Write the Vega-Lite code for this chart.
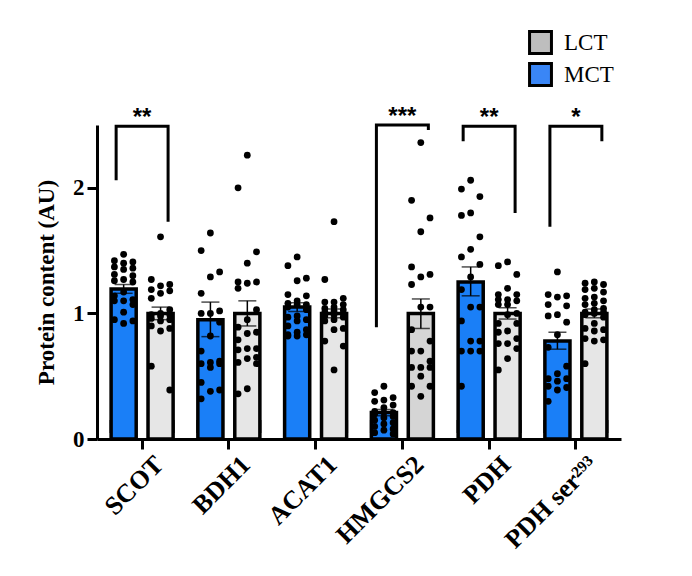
{
  "$schema": "https://vega.github.io/schema/vega-lite/v6.json",
  "description": "Ketone metabolism protein content, MCT vs LCT, bars with individual points and SEM.",
  "width": 524,
  "height": 314,
  "autosize": "none",
  "padding": {"left": 97, "top": 125, "right": 71, "bottom": 137},
  "config": {"view": {"stroke": null}, "font": "Liberation Serif"},
  "datasets": {
    "summary": [
      {"gene": "SCOT", "diet": "MCT", "mean": 1.195, "lo": 1.16, "hi": 1.23},
      {"gene": "SCOT", "diet": "LCT", "mean": 1.0, "lo": 0.95, "hi": 1.05},
      {"gene": "BDH1", "diet": "MCT", "mean": 0.95, "lo": 0.815, "hi": 1.09},
      {"gene": "BDH1", "diet": "LCT", "mean": 1.0, "lo": 0.9, "hi": 1.1},
      {"gene": "ACAT1", "diet": "MCT", "mean": 1.05, "lo": 1.015, "hi": 1.085},
      {"gene": "ACAT1", "diet": "LCT", "mean": 1.0, "lo": 0.965, "hi": 1.035},
      {"gene": "HMGCS2", "diet": "MCT", "mean": 0.21, "lo": 0.185, "hi": 0.235},
      {"gene": "HMGCS2", "diet": "LCT", "mean": 1.0, "lo": 0.88, "hi": 1.115},
      {"gene": "PDH", "diet": "MCT", "mean": 1.25, "lo": 1.14, "hi": 1.37},
      {"gene": "PDH", "diet": "LCT", "mean": 1.0, "lo": 0.955, "hi": 1.045},
      {"gene": "PDH ser²⁹³", "diet": "MCT", "mean": 0.78, "lo": 0.715, "hi": 0.85},
      {"gene": "PDH ser²⁹³", "diet": "LCT", "mean": 1.0, "lo": 0.965, "hi": 1.035}
    ],
    "brackets": [
      {"gene": "SCOT", "diet": "MCT", "y": 2.06, "step": 1},
      {"gene": "SCOT", "diet": "MCT", "y": 2.49, "step": 2},
      {"gene": "SCOT", "diet": "LCT", "y": 2.49, "step": 3},
      {"gene": "SCOT", "diet": "LCT", "y": 1.73, "step": 4},
      {"gene": "HMGCS2", "diet": "MCT", "y": 0.89, "step": 1},
      {"gene": "HMGCS2", "diet": "MCT", "y": 2.5, "step": 2},
      {"gene": "HMGCS2", "diet": "LCT", "y": 2.5, "step": 3},
      {"gene": "HMGCS2", "diet": "LCT", "y": 2.46, "step": 4},
      {"gene": "PDH", "diet": "MCT", "y": 2.37, "step": 1},
      {"gene": "PDH", "diet": "MCT", "y": 2.49, "step": 2},
      {"gene": "PDH", "diet": "LCT", "y": 2.49, "step": 3},
      {"gene": "PDH", "diet": "LCT", "y": 1.8, "step": 4},
      {"gene": "PDH ser²⁹³", "diet": "MCT", "y": 1.69, "step": 1},
      {"gene": "PDH ser²⁹³", "diet": "MCT", "y": 2.49, "step": 2},
      {"gene": "PDH ser²⁹³", "diet": "LCT", "y": 2.49, "step": 3},
      {"gene": "PDH ser²⁹³", "diet": "LCT", "y": 2.37, "step": 4}
    ],
    "stars": [
      {"gene": "SCOT", "label": "**", "y": 2.5},
      {"gene": "HMGCS2", "label": "***", "y": 2.51},
      {"gene": "PDH", "label": "**", "y": 2.5},
      {"gene": "PDH ser²⁹³", "label": "*", "y": 2.5}
    ],
    "points": [
      {"gene": "SCOT", "diet": "MCT", "value": 1.47},
      {"gene": "SCOT", "diet": "MCT", "value": 1.42},
      {"gene": "SCOT", "diet": "MCT", "value": 1.41},
      {"gene": "SCOT", "diet": "MCT", "value": 1.4},
      {"gene": "SCOT", "diet": "MCT", "value": 1.37},
      {"gene": "SCOT", "diet": "MCT", "value": 1.36},
      {"gene": "SCOT", "diet": "MCT", "value": 1.35},
      {"gene": "SCOT", "diet": "MCT", "value": 1.31},
      {"gene": "SCOT", "diet": "MCT", "value": 1.3},
      {"gene": "SCOT", "diet": "MCT", "value": 1.27},
      {"gene": "SCOT", "diet": "MCT", "value": 1.26},
      {"gene": "SCOT", "diet": "MCT", "value": 1.25},
      {"gene": "SCOT", "diet": "MCT", "value": 1.17},
      {"gene": "SCOT", "diet": "MCT", "value": 1.14},
      {"gene": "SCOT", "diet": "MCT", "value": 1.11},
      {"gene": "SCOT", "diet": "MCT", "value": 1.1},
      {"gene": "SCOT", "diet": "MCT", "value": 1.1},
      {"gene": "SCOT", "diet": "MCT", "value": 1.07},
      {"gene": "SCOT", "diet": "MCT", "value": 1.01},
      {"gene": "SCOT", "diet": "MCT", "value": 0.95},
      {"gene": "SCOT", "diet": "MCT", "value": 0.94},
      {"gene": "SCOT", "diet": "MCT", "value": 0.92},
      {"gene": "SCOT", "diet": "LCT", "value": 1.61},
      {"gene": "SCOT", "diet": "LCT", "value": 1.27},
      {"gene": "SCOT", "diet": "LCT", "value": 1.23},
      {"gene": "SCOT", "diet": "LCT", "value": 1.22},
      {"gene": "SCOT", "diet": "LCT", "value": 1.19},
      {"gene": "SCOT", "diet": "LCT", "value": 1.18},
      {"gene": "SCOT", "diet": "LCT", "value": 1.16},
      {"gene": "SCOT", "diet": "LCT", "value": 1.12},
      {"gene": "SCOT", "diet": "LCT", "value": 1.03},
      {"gene": "SCOT", "diet": "LCT", "value": 1.0},
      {"gene": "SCOT", "diet": "LCT", "value": 0.99},
      {"gene": "SCOT", "diet": "LCT", "value": 0.99},
      {"gene": "SCOT", "diet": "LCT", "value": 0.98},
      {"gene": "SCOT", "diet": "LCT", "value": 0.96},
      {"gene": "SCOT", "diet": "LCT", "value": 0.95},
      {"gene": "SCOT", "diet": "LCT", "value": 0.94},
      {"gene": "SCOT", "diet": "LCT", "value": 0.9},
      {"gene": "SCOT", "diet": "LCT", "value": 0.88},
      {"gene": "SCOT", "diet": "LCT", "value": 0.86},
      {"gene": "SCOT", "diet": "LCT", "value": 0.58},
      {"gene": "SCOT", "diet": "LCT", "value": 0.39},
      {"gene": "BDH1", "diet": "MCT", "value": 1.64},
      {"gene": "BDH1", "diet": "MCT", "value": 1.5},
      {"gene": "BDH1", "diet": "MCT", "value": 1.33},
      {"gene": "BDH1", "diet": "MCT", "value": 1.29},
      {"gene": "BDH1", "diet": "MCT", "value": 1.16},
      {"gene": "BDH1", "diet": "MCT", "value": 1.02},
      {"gene": "BDH1", "diet": "MCT", "value": 1.0},
      {"gene": "BDH1", "diet": "MCT", "value": 1.0},
      {"gene": "BDH1", "diet": "MCT", "value": 0.93},
      {"gene": "BDH1", "diet": "MCT", "value": 0.82},
      {"gene": "BDH1", "diet": "MCT", "value": 0.7},
      {"gene": "BDH1", "diet": "MCT", "value": 0.62},
      {"gene": "BDH1", "diet": "MCT", "value": 0.61},
      {"gene": "BDH1", "diet": "MCT", "value": 0.6},
      {"gene": "BDH1", "diet": "MCT", "value": 0.6},
      {"gene": "BDH1", "diet": "MCT", "value": 0.57},
      {"gene": "BDH1", "diet": "MCT", "value": 0.45},
      {"gene": "BDH1", "diet": "MCT", "value": 0.39},
      {"gene": "BDH1", "diet": "MCT", "value": 0.38},
      {"gene": "BDH1", "diet": "MCT", "value": 0.32},
      {"gene": "BDH1", "diet": "LCT", "value": 2.26},
      {"gene": "BDH1", "diet": "LCT", "value": 2.0},
      {"gene": "BDH1", "diet": "LCT", "value": 1.49},
      {"gene": "BDH1", "diet": "LCT", "value": 1.4},
      {"gene": "BDH1", "diet": "LCT", "value": 1.25},
      {"gene": "BDH1", "diet": "LCT", "value": 1.25},
      {"gene": "BDH1", "diet": "LCT", "value": 1.24},
      {"gene": "BDH1", "diet": "LCT", "value": 1.2},
      {"gene": "BDH1", "diet": "LCT", "value": 1.03},
      {"gene": "BDH1", "diet": "LCT", "value": 0.95},
      {"gene": "BDH1", "diet": "LCT", "value": 0.89},
      {"gene": "BDH1", "diet": "LCT", "value": 0.85},
      {"gene": "BDH1", "diet": "LCT", "value": 0.84},
      {"gene": "BDH1", "diet": "LCT", "value": 0.79},
      {"gene": "BDH1", "diet": "LCT", "value": 0.72},
      {"gene": "BDH1", "diet": "LCT", "value": 0.72},
      {"gene": "BDH1", "diet": "LCT", "value": 0.71},
      {"gene": "BDH1", "diet": "LCT", "value": 0.65},
      {"gene": "BDH1", "diet": "LCT", "value": 0.64},
      {"gene": "BDH1", "diet": "LCT", "value": 0.61},
      {"gene": "BDH1", "diet": "LCT", "value": 0.6},
      {"gene": "BDH1", "diet": "LCT", "value": 0.4},
      {"gene": "BDH1", "diet": "LCT", "value": 0.36},
      {"gene": "ACAT1", "diet": "MCT", "value": 1.45},
      {"gene": "ACAT1", "diet": "MCT", "value": 1.38},
      {"gene": "ACAT1", "diet": "MCT", "value": 1.28},
      {"gene": "ACAT1", "diet": "MCT", "value": 1.26},
      {"gene": "ACAT1", "diet": "MCT", "value": 1.15},
      {"gene": "ACAT1", "diet": "MCT", "value": 1.14},
      {"gene": "ACAT1", "diet": "MCT", "value": 1.1},
      {"gene": "ACAT1", "diet": "MCT", "value": 1.08},
      {"gene": "ACAT1", "diet": "MCT", "value": 1.07},
      {"gene": "ACAT1", "diet": "MCT", "value": 1.07},
      {"gene": "ACAT1", "diet": "MCT", "value": 1.05},
      {"gene": "ACAT1", "diet": "MCT", "value": 1.03},
      {"gene": "ACAT1", "diet": "MCT", "value": 0.98},
      {"gene": "ACAT1", "diet": "MCT", "value": 0.97},
      {"gene": "ACAT1", "diet": "MCT", "value": 0.95},
      {"gene": "ACAT1", "diet": "MCT", "value": 0.94},
      {"gene": "ACAT1", "diet": "MCT", "value": 0.9},
      {"gene": "ACAT1", "diet": "MCT", "value": 0.87},
      {"gene": "ACAT1", "diet": "MCT", "value": 0.85},
      {"gene": "ACAT1", "diet": "MCT", "value": 0.83},
      {"gene": "ACAT1", "diet": "MCT", "value": 0.83},
      {"gene": "ACAT1", "diet": "MCT", "value": 0.82},
      {"gene": "ACAT1", "diet": "MCT", "value": 0.82},
      {"gene": "ACAT1", "diet": "LCT", "value": 1.73},
      {"gene": "ACAT1", "diet": "LCT", "value": 1.27},
      {"gene": "ACAT1", "diet": "LCT", "value": 1.12},
      {"gene": "ACAT1", "diet": "LCT", "value": 1.09},
      {"gene": "ACAT1", "diet": "LCT", "value": 1.09},
      {"gene": "ACAT1", "diet": "LCT", "value": 1.07},
      {"gene": "ACAT1", "diet": "LCT", "value": 1.05},
      {"gene": "ACAT1", "diet": "LCT", "value": 1.04},
      {"gene": "ACAT1", "diet": "LCT", "value": 1.03},
      {"gene": "ACAT1", "diet": "LCT", "value": 1.02},
      {"gene": "ACAT1", "diet": "LCT", "value": 1.01},
      {"gene": "ACAT1", "diet": "LCT", "value": 1.0},
      {"gene": "ACAT1", "diet": "LCT", "value": 0.99},
      {"gene": "ACAT1", "diet": "LCT", "value": 0.98},
      {"gene": "ACAT1", "diet": "LCT", "value": 0.97},
      {"gene": "ACAT1", "diet": "LCT", "value": 0.95},
      {"gene": "ACAT1", "diet": "LCT", "value": 0.94},
      {"gene": "ACAT1", "diet": "LCT", "value": 0.88},
      {"gene": "ACAT1", "diet": "LCT", "value": 0.87},
      {"gene": "ACAT1", "diet": "LCT", "value": 0.78},
      {"gene": "ACAT1", "diet": "LCT", "value": 0.74},
      {"gene": "ACAT1", "diet": "LCT", "value": 0.55},
      {"gene": "HMGCS2", "diet": "MCT", "value": 0.42},
      {"gene": "HMGCS2", "diet": "MCT", "value": 0.37},
      {"gene": "HMGCS2", "diet": "MCT", "value": 0.33},
      {"gene": "HMGCS2", "diet": "MCT", "value": 0.31},
      {"gene": "HMGCS2", "diet": "MCT", "value": 0.3},
      {"gene": "HMGCS2", "diet": "MCT", "value": 0.27},
      {"gene": "HMGCS2", "diet": "MCT", "value": 0.25},
      {"gene": "HMGCS2", "diet": "MCT", "value": 0.22},
      {"gene": "HMGCS2", "diet": "MCT", "value": 0.21},
      {"gene": "HMGCS2", "diet": "MCT", "value": 0.21},
      {"gene": "HMGCS2", "diet": "MCT", "value": 0.2},
      {"gene": "HMGCS2", "diet": "MCT", "value": 0.18},
      {"gene": "HMGCS2", "diet": "MCT", "value": 0.17},
      {"gene": "HMGCS2", "diet": "MCT", "value": 0.15},
      {"gene": "HMGCS2", "diet": "MCT", "value": 0.13},
      {"gene": "HMGCS2", "diet": "MCT", "value": 0.12},
      {"gene": "HMGCS2", "diet": "MCT", "value": 0.1},
      {"gene": "HMGCS2", "diet": "MCT", "value": 0.08},
      {"gene": "HMGCS2", "diet": "MCT", "value": 0.07},
      {"gene": "HMGCS2", "diet": "MCT", "value": 0.05},
      {"gene": "HMGCS2", "diet": "MCT", "value": 0.04},
      {"gene": "HMGCS2", "diet": "LCT", "value": 2.36},
      {"gene": "HMGCS2", "diet": "LCT", "value": 1.9},
      {"gene": "HMGCS2", "diet": "LCT", "value": 1.76},
      {"gene": "HMGCS2", "diet": "LCT", "value": 1.65},
      {"gene": "HMGCS2", "diet": "LCT", "value": 1.37},
      {"gene": "HMGCS2", "diet": "LCT", "value": 1.31},
      {"gene": "HMGCS2", "diet": "LCT", "value": 1.29},
      {"gene": "HMGCS2", "diet": "LCT", "value": 1.23},
      {"gene": "HMGCS2", "diet": "LCT", "value": 1.05},
      {"gene": "HMGCS2", "diet": "LCT", "value": 1.05},
      {"gene": "HMGCS2", "diet": "LCT", "value": 0.87},
      {"gene": "HMGCS2", "diet": "LCT", "value": 0.78},
      {"gene": "HMGCS2", "diet": "LCT", "value": 0.7},
      {"gene": "HMGCS2", "diet": "LCT", "value": 0.7},
      {"gene": "HMGCS2", "diet": "LCT", "value": 0.62},
      {"gene": "HMGCS2", "diet": "LCT", "value": 0.57},
      {"gene": "HMGCS2", "diet": "LCT", "value": 0.57},
      {"gene": "HMGCS2", "diet": "LCT", "value": 0.57},
      {"gene": "HMGCS2", "diet": "LCT", "value": 0.5},
      {"gene": "HMGCS2", "diet": "LCT", "value": 0.42},
      {"gene": "HMGCS2", "diet": "LCT", "value": 0.42},
      {"gene": "HMGCS2", "diet": "LCT", "value": 0.34},
      {"gene": "PDH", "diet": "MCT", "value": 2.06},
      {"gene": "PDH", "diet": "MCT", "value": 1.99},
      {"gene": "PDH", "diet": "MCT", "value": 1.93},
      {"gene": "PDH", "diet": "MCT", "value": 1.8},
      {"gene": "PDH", "diet": "MCT", "value": 1.78},
      {"gene": "PDH", "diet": "MCT", "value": 1.61},
      {"gene": "PDH", "diet": "MCT", "value": 1.51},
      {"gene": "PDH", "diet": "MCT", "value": 1.45},
      {"gene": "PDH", "diet": "MCT", "value": 1.39},
      {"gene": "PDH", "diet": "MCT", "value": 1.29},
      {"gene": "PDH", "diet": "MCT", "value": 1.19},
      {"gene": "PDH", "diet": "MCT", "value": 1.05},
      {"gene": "PDH", "diet": "MCT", "value": 1.05},
      {"gene": "PDH", "diet": "MCT", "value": 0.94},
      {"gene": "PDH", "diet": "MCT", "value": 0.78},
      {"gene": "PDH", "diet": "MCT", "value": 0.78},
      {"gene": "PDH", "diet": "MCT", "value": 0.7},
      {"gene": "PDH", "diet": "MCT", "value": 0.7},
      {"gene": "PDH", "diet": "MCT", "value": 0.7},
      {"gene": "PDH", "diet": "MCT", "value": 0.42},
      {"gene": "PDH", "diet": "LCT", "value": 1.41},
      {"gene": "PDH", "diet": "LCT", "value": 1.38},
      {"gene": "PDH", "diet": "LCT", "value": 1.31},
      {"gene": "PDH", "diet": "LCT", "value": 1.2},
      {"gene": "PDH", "diet": "LCT", "value": 1.15},
      {"gene": "PDH", "diet": "LCT", "value": 1.15},
      {"gene": "PDH", "diet": "LCT", "value": 1.11},
      {"gene": "PDH", "diet": "LCT", "value": 1.11},
      {"gene": "PDH", "diet": "LCT", "value": 1.1},
      {"gene": "PDH", "diet": "LCT", "value": 1.07},
      {"gene": "PDH", "diet": "LCT", "value": 1.07},
      {"gene": "PDH", "diet": "LCT", "value": 1.0},
      {"gene": "PDH", "diet": "LCT", "value": 0.99},
      {"gene": "PDH", "diet": "LCT", "value": 0.92},
      {"gene": "PDH", "diet": "LCT", "value": 0.92},
      {"gene": "PDH", "diet": "LCT", "value": 0.86},
      {"gene": "PDH", "diet": "LCT", "value": 0.85},
      {"gene": "PDH", "diet": "LCT", "value": 0.8},
      {"gene": "PDH", "diet": "LCT", "value": 0.76},
      {"gene": "PDH", "diet": "LCT", "value": 0.76},
      {"gene": "PDH", "diet": "LCT", "value": 0.72},
      {"gene": "PDH", "diet": "LCT", "value": 0.64},
      {"gene": "PDH", "diet": "LCT", "value": 0.55},
      {"gene": "PDH ser²⁹³", "diet": "MCT", "value": 1.33},
      {"gene": "PDH ser²⁹³", "diet": "MCT", "value": 1.15},
      {"gene": "PDH ser²⁹³", "diet": "MCT", "value": 1.14},
      {"gene": "PDH ser²⁹³", "diet": "MCT", "value": 1.13},
      {"gene": "PDH ser²⁹³", "diet": "MCT", "value": 1.07},
      {"gene": "PDH ser²⁹³", "diet": "MCT", "value": 1.06},
      {"gene": "PDH ser²⁹³", "diet": "MCT", "value": 0.99},
      {"gene": "PDH ser²⁹³", "diet": "MCT", "value": 0.98},
      {"gene": "PDH ser²⁹³", "diet": "MCT", "value": 0.93},
      {"gene": "PDH ser²⁹³", "diet": "MCT", "value": 0.83},
      {"gene": "PDH ser²⁹³", "diet": "MCT", "value": 0.73},
      {"gene": "PDH ser²⁹³", "diet": "MCT", "value": 0.58},
      {"gene": "PDH ser²⁹³", "diet": "MCT", "value": 0.52},
      {"gene": "PDH ser²⁹³", "diet": "MCT", "value": 0.48},
      {"gene": "PDH ser²⁹³", "diet": "MCT", "value": 0.48},
      {"gene": "PDH ser²⁹³", "diet": "MCT", "value": 0.46},
      {"gene": "PDH ser²⁹³", "diet": "MCT", "value": 0.42},
      {"gene": "PDH ser²⁹³", "diet": "MCT", "value": 0.41},
      {"gene": "PDH ser²⁹³", "diet": "MCT", "value": 0.39},
      {"gene": "PDH ser²⁹³", "diet": "MCT", "value": 0.3},
      {"gene": "PDH ser²⁹³", "diet": "LCT", "value": 1.25},
      {"gene": "PDH ser²⁹³", "diet": "LCT", "value": 1.24},
      {"gene": "PDH ser²⁹³", "diet": "LCT", "value": 1.23},
      {"gene": "PDH ser²⁹³", "diet": "LCT", "value": 1.2},
      {"gene": "PDH ser²⁹³", "diet": "LCT", "value": 1.19},
      {"gene": "PDH ser²⁹³", "diet": "LCT", "value": 1.17},
      {"gene": "PDH ser²⁹³", "diet": "LCT", "value": 1.13},
      {"gene": "PDH ser²⁹³", "diet": "LCT", "value": 1.12},
      {"gene": "PDH ser²⁹³", "diet": "LCT", "value": 1.1},
      {"gene": "PDH ser²⁹³", "diet": "LCT", "value": 1.08},
      {"gene": "PDH ser²⁹³", "diet": "LCT", "value": 1.07},
      {"gene": "PDH ser²⁹³", "diet": "LCT", "value": 1.04},
      {"gene": "PDH ser²⁹³", "diet": "LCT", "value": 1.03},
      {"gene": "PDH ser²⁹³", "diet": "LCT", "value": 1.01},
      {"gene": "PDH ser²⁹³", "diet": "LCT", "value": 1.01},
      {"gene": "PDH ser²⁹³", "diet": "LCT", "value": 1.0},
      {"gene": "PDH ser²⁹³", "diet": "LCT", "value": 0.99},
      {"gene": "PDH ser²⁹³", "diet": "LCT", "value": 0.97},
      {"gene": "PDH ser²⁹³", "diet": "LCT", "value": 0.92},
      {"gene": "PDH ser²⁹³", "diet": "LCT", "value": 0.88},
      {"gene": "PDH ser²⁹³", "diet": "LCT", "value": 0.87},
      {"gene": "PDH ser²⁹³", "diet": "LCT", "value": 0.86},
      {"gene": "PDH ser²⁹³", "diet": "LCT", "value": 0.8},
      {"gene": "PDH ser²⁹³", "diet": "LCT", "value": 0.79},
      {"gene": "PDH ser²⁹³", "diet": "LCT", "value": 0.78},
      {"gene": "PDH ser²⁹³", "diet": "LCT", "value": 0.6}
    ]
  },
  "encoding": {
    "x": {
      "field": "gene",
      "type": "nominal",
      "sort": ["SCOT", "BDH1", "ACAT1", "HMGCS2", "PDH", "PDH ser²⁹³"],
      "scale": {"paddingInner": 0, "paddingOuter": 0.02},
      "axis": {
        "title": null,
        "labelAngle": -45,
        "labelFont": "Liberation Serif",
        "labelFontWeight": "bold",
        "labelFontSize": 26,
        "labelColor": "black",
        "labelPadding": 2,
        "labelOffset": 8,
        "domainColor": "black",
        "domainWidth": 3,
        "tickColor": "black",
        "tickWidth": 3,
        "tickSize": 10
      }
    }
  },
  "layer": [
    {
      "data": {"name": "summary"},
      "mark": {"type": "square", "size": 100, "filled": true, "opacity": 1, "stroke": "black", "strokeWidth": 3},
      "encoding": {
        "xOffset": {"field": "diet", "type": "nominal", "scale": {"domain": ["MCT", "LCT"], "paddingInner": 0.32, "paddingOuter": 0.335}},
        "y": {
          "datum": 0.1,
          "type": "quantitative",
          "scale": {"domain": [0, 2.5], "nice": false},
          "axis": {"title": "Protein content (AU)", "values": [0, 1, 2], "format": "d", "grid": false, "titleFont": "Liberation Serif", "titleFontSize": 23, "titleFontWeight": "bold", "titleColor": "black", "titlePadding": 14, "labelFont": "Liberation Serif", "labelFontSize": 23, "labelFontWeight": "bold", "labelColor": "black", "labelPadding": 3, "domainColor": "black", "domainWidth": 3, "tickColor": "black", "tickWidth": 3, "tickSize": 10}
        },
        "fill": {
          "field": "diet",
          "type": "nominal",
          "scale": {"domain": ["LCT", "MCT"], "range": ["#bebebe", "#3a86f6"]},
          "legend": {
            "title": null,
            "orient": "none",
            "legendX": 431,
            "legendY": -95,
            "symbolType": "square",
            "symbolSize": 480,
            "symbolStrokeColor": "black",
            "symbolStrokeWidth": 3,
            "labelFont": "Liberation Serif",
            "labelFontSize": 23,
            "labelColor": "black",
            "labelOffset": 11,
            "rowPadding": -3
          }
        }
      }
    },
    {
      "data": {"name": "summary"},
      "mark": {"type": "bar", "stroke": "black", "strokeWidth": 3.5},
      "encoding": {
        "xOffset": {"field": "diet", "type": "nominal", "scale": {"domain": ["MCT", "LCT"], "paddingInner": 0.32, "paddingOuter": 0.335}},
        "y": {"field": "mean", "type": "quantitative", "axis": {"title": "Protein content (AU)", "values": [0, 1, 2], "format": "d", "grid": false, "titleFont": "Liberation Serif", "titleFontSize": 23, "titleFontWeight": "bold", "titleColor": "black", "titlePadding": 14, "labelFont": "Liberation Serif", "labelFontSize": 23, "labelFontWeight": "bold", "labelColor": "black", "labelPadding": 3, "domainColor": "black", "domainWidth": 3, "tickColor": "black", "tickWidth": 3, "tickSize": 10}},
        "color": {
          "condition": {"test": "datum.gene === 'HMGCS2' && datum.diet === 'LCT'", "value": "#d5d5d5"},
          "field": "diet",
          "type": "nominal",
          "scale": {"domain": ["LCT", "MCT"], "range": ["#e6e6e6", "#1a7ff7"]},
          "legend": null
        }
      }
    },
    {
      "data": {"name": "points"},
      "transform": [
        {"window": [{"op": "row_number", "as": "rank"}], "groupby": ["gene", "diet"], "sort": [{"field": "value", "order": "descending"}]},
        {"calculate": "(datum.diet === 'MCT' ? 0 : 1) + (datum.rank % 3 === 0 ? 0.25 : (datum.rank % 3 === 2 ? -0.25 : 0))", "as": "slot"}
      ],
      "mark": {"type": "circle", "color": "black", "opacity": 1, "size": 46},
      "encoding": {
        "xOffset": {"field": "slot", "type": "quantitative", "scale": {"domain": [0, 1], "range": [24.9, 61.8]}},
        "y": {"field": "value", "type": "quantitative", "axis": {"title": "Protein content (AU)", "values": [0, 1, 2], "format": "d", "grid": false, "titleFont": "Liberation Serif", "titleFontSize": 23, "titleFontWeight": "bold", "titleColor": "black", "titlePadding": 14, "labelFont": "Liberation Serif", "labelFontSize": 23, "labelFontWeight": "bold", "labelColor": "black", "labelPadding": 3, "domainColor": "black", "domainWidth": 3, "tickColor": "black", "tickWidth": 3, "tickSize": 10}}
      }
    },
    {
      "data": {"name": "summary"},
      "mark": {"type": "rule", "color": "black", "strokeWidth": 1.5},
      "encoding": {
        "xOffset": {"field": "diet", "type": "nominal", "scale": {"domain": ["MCT", "LCT"], "paddingInner": 0.32, "paddingOuter": 0.335}},
        "y": {"field": "lo", "type": "quantitative", "axis": {"title": "Protein content (AU)", "values": [0, 1, 2], "format": "d", "grid": false, "titleFont": "Liberation Serif", "titleFontSize": 23, "titleFontWeight": "bold", "titleColor": "black", "titlePadding": 14, "labelFont": "Liberation Serif", "labelFontSize": 23, "labelFontWeight": "bold", "labelColor": "black", "labelPadding": 3, "domainColor": "black", "domainWidth": 3, "tickColor": "black", "tickWidth": 3, "tickSize": 10}},
        "y2": {"field": "hi"}
      }
    },
    {
      "data": {"name": "summary"},
      "mark": {"type": "tick", "color": "black", "thickness": 1.5, "size": 18, "orient": "horizontal"},
      "encoding": {
        "xOffset": {"field": "diet", "type": "nominal", "scale": {"domain": ["MCT", "LCT"], "paddingInner": 0.32, "paddingOuter": 0.335}},
        "y": {"field": "hi", "type": "quantitative", "axis": {"title": "Protein content (AU)", "values": [0, 1, 2], "format": "d", "grid": false, "titleFont": "Liberation Serif", "titleFontSize": 23, "titleFontWeight": "bold", "titleColor": "black", "titlePadding": 14, "labelFont": "Liberation Serif", "labelFontSize": 23, "labelFontWeight": "bold", "labelColor": "black", "labelPadding": 3, "domainColor": "black", "domainWidth": 3, "tickColor": "black", "tickWidth": 3, "tickSize": 10}}
      }
    },
    {
      "data": {"name": "summary"},
      "mark": {"type": "tick", "color": "black", "thickness": 1.5, "size": 18, "orient": "horizontal"},
      "encoding": {
        "xOffset": {"field": "diet", "type": "nominal", "scale": {"domain": ["MCT", "LCT"], "paddingInner": 0.32, "paddingOuter": 0.335}},
        "y": {"field": "lo", "type": "quantitative", "axis": {"title": "Protein content (AU)", "values": [0, 1, 2], "format": "d", "grid": false, "titleFont": "Liberation Serif", "titleFontSize": 23, "titleFontWeight": "bold", "titleColor": "black", "titlePadding": 14, "labelFont": "Liberation Serif", "labelFontSize": 23, "labelFontWeight": "bold", "labelColor": "black", "labelPadding": 3, "domainColor": "black", "domainWidth": 3, "tickColor": "black", "tickWidth": 3, "tickSize": 10}}
      }
    },
    {
      "data": {"name": "brackets"},
      "mark": {"type": "line", "color": "black", "strokeWidth": 3, "strokeJoin": "miter", "strokeCap": "butt"},
      "encoding": {
        "xOffset": {"field": "diet", "type": "nominal", "scale": {"domain": ["MCT", "LCT"], "paddingInner": 0.32, "paddingOuter": 0.335}},
        "y": {"field": "y", "type": "quantitative", "axis": {"title": "Protein content (AU)", "values": [0, 1, 2], "format": "d", "grid": false, "titleFont": "Liberation Serif", "titleFontSize": 23, "titleFontWeight": "bold", "titleColor": "black", "titlePadding": 14, "labelFont": "Liberation Serif", "labelFontSize": 23, "labelFontWeight": "bold", "labelColor": "black", "labelPadding": 3, "domainColor": "black", "domainWidth": 3, "tickColor": "black", "tickWidth": 3, "tickSize": 10}},
        "detail": {"field": "gene"},
        "order": {"field": "step", "type": "quantitative"}
      }
    },
    {
      "data": {"name": "stars"},
      "mark": {"type": "text", "font": "Liberation Sans", "fontWeight": "bold", "fontSize": 24, "color": "black", "baseline": "alphabetic"},
      "encoding": {
        "y": {"field": "y", "type": "quantitative", "axis": {"title": "Protein content (AU)", "values": [0, 1, 2], "format": "d", "grid": false, "titleFont": "Liberation Serif", "titleFontSize": 23, "titleFontWeight": "bold", "titleColor": "black", "titlePadding": 14, "labelFont": "Liberation Serif", "labelFontSize": 23, "labelFontWeight": "bold", "labelColor": "black", "labelPadding": 3, "domainColor": "black", "domainWidth": 3, "tickColor": "black", "tickWidth": 3, "tickSize": 10}},
        "text": {"field": "label"}
      }
    }
  ],
  "resolve": {"scale": {"xOffset": "independent"}}
}
